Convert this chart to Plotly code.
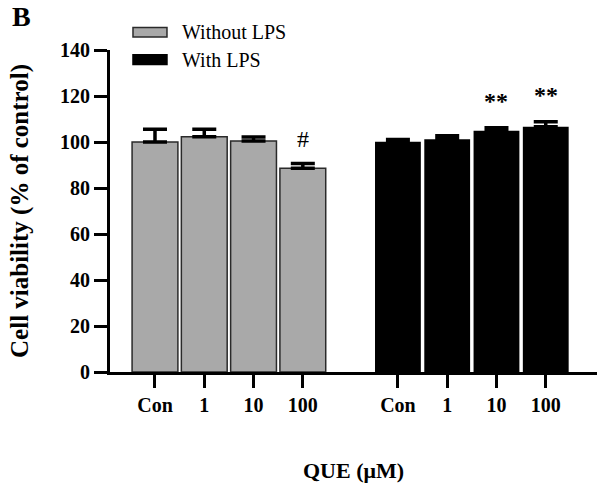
import plotly.graph_objects as go

categories = ["Con", "1", "10", "100"]
without_lps = [100.0, 102.3, 100.4, 88.6]
without_err = [5.5, 3.2, 1.8, 2.1]
with_lps = [100.1, 101.2, 104.9, 106.6]
with_err = [1.0, 1.5, 1.3, 2.2]
sig_without = ["", "", "", "#"]
sig_with = ["", "", "**", "**"]
y_ticks = [0, 20, 40, 60, 80, 100, 120, 140]

GROUP_GAP = 4.93
xa = [i for i in range(len(categories))]
xb = [i + GROUP_GAP for i in range(len(categories))]

SERIF = "Liberation Serif, Times New Roman, serif"
GREY = "#a9a9a9"

fig = go.Figure()
fig.add_trace(go.Bar(
    x=xa, y=without_lps, width=0.93, name="Without LPS", showlegend=False,
    marker=dict(color=GREY, line=dict(color="#2a2a2a", width=1.5)),
    error_y=dict(type="data", array=without_err, arrayminus=[0] * len(without_err),
                 symmetric=False, color="black", thickness=3.5, width=12),
))
fig.add_trace(go.Bar(
    x=xb, y=with_lps, width=0.93, name="With LPS", showlegend=False,
    marker=dict(color="black", line=dict(color="black", width=0)),
    error_y=dict(type="data", array=with_err, arrayminus=[0] * len(with_err),
                 symmetric=False, color="black", thickness=3.5, width=12),
))

annotations = []
for xs, ys, es, sig in ((xa, without_lps, without_err, sig_without),
                        (xb, with_lps, with_err, sig_with)):
    for x, y, e, s in zip(xs, ys, es, sig):
        if s:
            annotations.append(dict(
                x=x, y=y + e, xref="x", yref="y", text=s, showarrow=False,
                yanchor="middle", yshift=24 if s == "#" else 27,
                font=dict(family=SERIF, size=24 if s == "#" else 24,
                          color="black", weight="normal" if s == "#" else "bold"),
            ))

# panel letter
annotations.append(dict(x=-0.205, y=1.105, xref="paper", yref="paper", text="<b>B</b>",
                        showarrow=False, xanchor="left", yanchor="middle",
                        font=dict(family=SERIF, size=28, color="black")))

# manual legend
legend_items = [("Without LPS", GREY, "#2a2a2a", 1.055), ("With LPS", "black", "black", 0.97)]
shapes = []
for label, fill, edge, yc in legend_items:
    shapes.append(dict(type="rect", xref="paper", yref="paper",
                       x0=0.0472, x1=0.117, y0=yc - 0.015, y1=yc + 0.015,
                       fillcolor=fill, line=dict(color=edge, width=1.5)))
    annotations.append(dict(x=0.1437, y=yc, xref="paper", yref="paper", text=label,
                            showarrow=False, xanchor="left", yanchor="middle",
                            font=dict(family=SERIF, size=20, color="black")))

fig.update_layout(
    width=602, height=487,
    margin=dict(l=110, r=5, t=50, b=115),
    paper_bgcolor="white", plot_bgcolor="white",
    barmode="overlay",
    showlegend=False,
    annotations=annotations,
    shapes=shapes,
    font=dict(family=SERIF, color="black"),
)
fig.update_xaxes(
    range=[-0.913, 8.97],
    tickvals=xa + xb, ticktext=categories + categories,
    tickfont=dict(family=SERIF, size=20, color="black", weight="bold"),
    showline=True, linecolor="black", linewidth=3,
    ticks="outside", ticklen=13, tickwidth=3, tickcolor="black",
    showgrid=False, zeroline=False,
    title=dict(text="<b>QUE (μM)</b>", font=dict(family=SERIF, size=22, color="black"),
               standoff=48),
)
fig.update_yaxes(
    range=[0, 140], tickvals=y_ticks,
    tickfont=dict(family=SERIF, size=20, color="black", weight="bold"),
    showline=True, linecolor="black", linewidth=3,
    ticks="outside", ticklen=13, tickwidth=3, tickcolor="black",
    showgrid=False, zeroline=False,
    title=dict(text="<b>Cell viability (% of control)</b>",
               font=dict(family=SERIF, size=25, color="black"), standoff=25),
)

fig.write_html("out.html", config={"displayModeBar": False},
               post_script="document.body.style.margin='0';")
